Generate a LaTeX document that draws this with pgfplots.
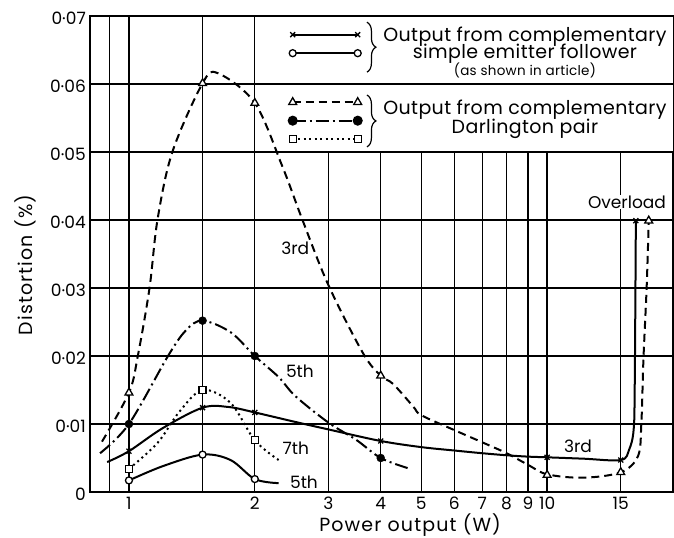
\documentclass[border=0pt]{standalone}
\usepackage{fontspec}
\setmainfont{Poppins}
\newfontfamily\wideface{Poppins}[LetterSpace=6]
\newfontfamily\legface{Poppins}[LetterSpace=2]
\usepackage{pgfplots}
\pgfplotsset{compat=1.18}
\usetikzlibrary{decorations.pathreplacing}

\newcommand\tickfont{\fontsize{17}{20}\selectfont}
\newcommand\labfont{\wideface\fontsize{19}{22}\selectfont}
\newcommand\legfont{\legface\fontsize{19}{23}\selectfont}
\newcommand\smallfont{\legface\fontsize{13.5}{16}\selectfont}

% line styles of the five curves
\pgfplotsset{
  curve/.style={black, line width=2pt, smooth, tension=0.55},
  emx/.style={mark=x, mark size=3.5pt, mark options={solid, line width=1.3pt}},
  emo/.style={mark=*, mark size=3.5pt, mark options={solid, fill=white, line width=1.3pt}},
  dtri/.style={mark=triangle*, mark size=4.5pt, mark options={solid, fill=white, line width=1.3pt}},
  ddot/.style={mark=*, mark size=4pt, mark options={solid, fill=black}},
  dsq/.style={mark=square*, mark size=3.5pt, mark options={solid, fill=white, line width=1.3pt}},
  dashA/.style={dash pattern=on 8pt off 5pt},
  dashdotA/.style={dash pattern=on 13pt off 4pt on 2pt off 4pt},
  dotA/.style={dash pattern=on 2pt off 3.5pt},
}

\begin{document}
\begin{tikzpicture}
\begin{axis}[
  name=ax,
  scale only axis, width=583pt, height=476pt,
  xmode=log, xmin=0.807, xmax=20, ymin=0, ymax=0.07,
  xtick={0.9,1,1.5,2,3,4,5,6,7,8,9,10,15},
  xticklabels={,1,,2,3,4,5,6,7,8,9,10,15},
  minor xtick={},
  ytick={0,0.01,0.02,0.03,0.04,0.05,0.06,0.07},
  yticklabels={0,0·01,0·02,0·03,0·04,0·05,0·06,0·07},
  scaled y ticks=false,
  xmajorgrids, ymajorgrids,
  major grid style={black, line width=1.3pt},
  major tick length=0pt, minor tick length=0pt,
  axis line style={line width=1.3pt},
  tick label style={font=\tickfont, inner sep=0pt},
  yticklabel style={xshift=-4pt, yshift=-2pt},
  xticklabel style={yshift=-5pt},
  xlabel={Power output (W)},
  ylabel={Distortion (\%)},
  label style={font=\labfont},
  xlabel style={at={(axis description cs:0.549,-0.0693)}, anchor=center},
  ylabel style={at={(axis description cs:-0.1115,0.477)}, anchor=center},
  legend style={at={(0.3405,0.9806)}, anchor=north west, draw=none, fill=none,
    inner sep=0pt, row sep=0pt, column sep=0pt, cells={anchor=center, inner sep=0pt}},
  legend image code/.code={\draw[#1] plot coordinates {(0pt,0pt) (65pt,0pt)};},
]
% blank out the vertical grid behind the legend
\fill[white] (axis cs:2.4,0.0502) rectangle (axis cs:20,0.0598);
\fill[white] (axis cs:2.4,0.0602) rectangle (axis cs:20,0.0698);

% Darlington pair, 3rd harmonic
\addplot[curve, dashA, forget plot] coordinates {
  (0.862,0.0074) (1,0.0146) (1.05,0.020) (1.12,0.030) (1.17,0.040) (1.27,0.050)
  (1.5,0.0601) (1.63,0.0616) (2,0.0572) (2.33,0.0478) (2.60,0.040) (3.0,0.0304)
  (3.63,0.0204) (4,0.0171) (4.28,0.0159) (4.78,0.0126) (5,0.0113) (6,0.0091)
  (7,0.0073) (8,0.0057) (9,0.0040) (10,0.0026) (12.2,0.0021) (15,0.0029)
  (16.5,0.0053) (16.8,0.0101) (17.0,0.0197) (17.3,0.0302) (17.5,0.0399)};
\addplot[only marks, dtri, forget plot] coordinates {
  (1,0.0146) (1.5,0.0601) (2,0.0572) (4,0.0171) (10,0.0025) (15,0.0029) (17.5,0.0399)};

% Darlington pair, 5th harmonic
\addplot[curve, dashdotA, forget plot] coordinates {
  (0.853,0.0057) (1,0.0100) (1.24,0.0200) (1.37,0.0238) (1.5,0.0252) (1.75,0.0235)
  (2,0.0200) (2.28,0.0169) (2.5,0.0141) (3,0.0102) (3.49,0.0077) (4,0.0050) (4.65,0.0035)};
\addplot[only marks, ddot, forget plot] coordinates {
  (1,0.0100) (1.5,0.0252) (2,0.0200) (4,0.0050)};

% Darlington pair, 7th harmonic
\addplot[curve, dotA, forget plot] coordinates {
  (1,0.0034) (1.17,0.0072) (1.32,0.0118) (1.5,0.0150) (1.75,0.0131) (2,0.0076) (2.28,0.0047)};
\addplot[only marks, dsq, forget plot] coordinates {
  (1,0.0034) (1.5,0.0150) (2,0.0076)};

% simple emitter follower, 3rd harmonic
\addplot[curve, forget plot] coordinates {
  (0.887,0.0044) (1,0.0060) (1.205,0.0094) (1.5,0.0124) (1.73,0.0125) (2,0.0117)
  (2.5,0.0103) (3,0.0092) (4,0.0075) (5,0.0066) (6,0.0061) (7,0.0057) (8,0.0054)
  (9,0.0052) (10,0.0051) (12.2,0.0049) (15,0.0047) (15.7,0.0062) (16.1,0.0091)
  (16.2,0.0158) (16.3,0.0399)};
\addplot[only marks, emx, forget plot] coordinates {
  (1,0.0060) (1.5,0.0124) (2,0.0117) (4,0.0075) (10,0.0051) (15,0.0047) (16.3,0.0399)};

% simple emitter follower, 5th harmonic
\addplot[curve, forget plot] coordinates {
  (1,0.0017) (1.205,0.0038) (1.5,0.0055) (1.75,0.0047) (2,0.0019) (2.28,0.0013)};
\addplot[only marks, emo, forget plot] coordinates {
  (1,0.0017) (1.5,0.0055) (2,0.0019)};

% legend samples
\addlegendimage{black, line width=2pt, emx}
\addlegendentry{\rule{0pt}{13pt}}
\addlegendimage{black, line width=2pt, emo}
\addlegendentry{\rule{0pt}{13pt}}
\addlegendimage{empty legend}
\addlegendentry{\rule{0pt}{25pt}}
\addlegendimage{black, line width=2pt, dashA, dtri}
\addlegendentry{\rule{0pt}{13pt}}
\addlegendimage{black, line width=2pt, dashdotA, ddot}
\addlegendentry{\rule{0pt}{13pt}}
\addlegendimage{black, line width=2pt, dotA, dsq}
\addlegendentry{\rule{0pt}{13pt}}

\draw[decorate, decoration={brace, amplitude=9pt}, line width=1.2pt]
  (rel axis cs:0.475,0.987) -- (rel axis cs:0.475,0.882);
\draw[decorate, decoration={brace, amplitude=9pt}, line width=1.2pt]
  (rel axis cs:0.475,0.834) -- (rel axis cs:0.475,0.725);
\node[anchor=base, font=\legfont] at (rel axis cs:0.746,0.947) {Output from complementary};
\node[anchor=base, font=\legfont] at (rel axis cs:0.746,0.910) {simple emitter follower};
\node[anchor=base, font=\smallfont] at (rel axis cs:0.746,0.874) {(as shown in article)};
\node[anchor=base, font=\legfont] at (rel axis cs:0.746,0.794) {Output from complementary};
\node[anchor=base, font=\legfont] at (rel axis cs:0.746,0.754) {Darlington pair};

% curve labels
\node[font=\tickfont] at (rel axis cs:0.352,0.513) {3rd};
\node[font=\tickfont] at (rel axis cs:0.360,0.254) {5th};
\node[font=\tickfont] at (rel axis cs:0.353,0.092) {7th};
\node[font=\tickfont] at (rel axis cs:0.367,0.021) {5th};
\node[font=\tickfont] at (rel axis cs:0.837,0.095) {3rd};
\node[font=\tickfont, fill=white, inner sep=1pt] at (rel axis cs:0.921,0.609) {Overload};
\end{axis}
\pgfresetboundingbox
\path[use as bounding box] ([shift={(-90pt,-46pt)}]ax.south west) rectangle ([shift={(1pt,16pt)}]ax.north east);
\end{tikzpicture}
\end{document}
